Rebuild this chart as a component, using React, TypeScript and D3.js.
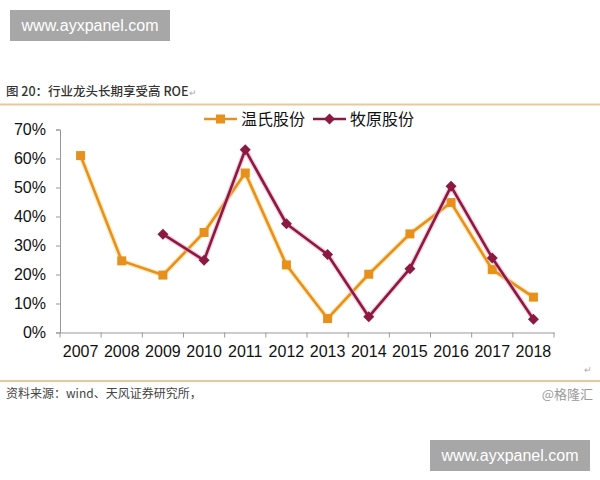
import { useRef, useEffect } from 'react';
import { select, scaleBand, scaleLinear, line, axisLeft, axisBottom } from 'd3';

const years = ['2007', '2008', '2009', '2010', '2011', '2012', '2013', '2014', '2015', '2016', '2017', '2018'];
const wensRoe = [0.61, 0.247, 0.198, 0.345, 0.55, 0.233, 0.048, 0.201, 0.34, 0.448, 0.217, 0.122];
const muyuanRoe: (number | null)[] = [null, null, 0.339, 0.249, 0.63, 0.375, 0.269, 0.054, 0.22, 0.504, 0.257, 0.046];
const yTicks = [0, 0.1, 0.2, 0.3, 0.4, 0.5, 0.6, 0.7];

const ORANGE = '#E8901C';
const RED = '#8B1A43';
const CJK = '"Noto Sans CJK SC", "Liberation Sans", sans-serif';
const NUM = '"Liberation Sans", Arial, sans-serif';

const App = () => {
  const svgRef = useRef<SVGSVGElement | null>(null);

  useEffect(() => {
    const svg = select(svgRef.current);
    svg.selectAll('*').remove();

    const left = 60;
    const right = 554;
    const top = 129.5;
    const bottom = 332.5;

    const x = scaleBand().domain(years).range([left, right]);
    const y = scaleLinear().domain([0, 0.7]).range([bottom, top]);
    const cx = (i: number) => (x(years[i]) as number) + x.bandwidth() / 2;

    // watermarks
    const marks = [
      { bx: 10, by: 10 },
      { bx: 430, by: 440 },
    ];
    marks.forEach((m) => {
      svg.append('rect').attr('x', m.bx).attr('y', m.by).attr('width', 160).attr('height', 31).attr('fill', '#a7a7a7');
      svg
        .append('text')
        .attr('x', m.bx + 80)
        .attr('y', m.by + 21)
        .attr('text-anchor', 'middle')
        .attr('fill', '#fff')
        .style('font-family', NUM)
        .style('font-size', '16px')
        .text('www.ayxpanel.com');
    });

    // title + rules
    svg
      .append('text')
      .attr('x', 6)
      .attr('y', 96)
      .attr('fill', '#333')
      .style('font-family', CJK)
      .style('font-size', '12.5px')
      .style('font-weight', 500)
      .text('图 20：行业龙头长期享受高 ROE')
      .append('tspan')
      .attr('fill', '#aaa')
      .style('font-size', '9px')
      .text('↵');
    svg.append('line').attr('x1', 0).attr('x2', 600).attr('y1', 104.5).attr('y2', 104.5).attr('stroke', '#e6c9a0').attr('stroke-width', 2);
    svg.append('line').attr('x1', 0).attr('x2', 600).attr('y1', 381).attr('y2', 381).attr('stroke', '#e6c9a0').attr('stroke-width', 2);
    svg
      .append('text')
      .attr('x', 584)
      .attr('y', 373)
      .attr('fill', '#aaa')
      .style('font-size', '9px')
      .text('↵');

    // footer
    svg
      .append('text')
      .attr('x', 6)
      .attr('y', 398)
      .attr('fill', '#444')
      .style('font-family', CJK)
      .style('font-size', '12px')
      .text('资料来源：wind、天风证券研究所，');
    svg
      .append('text')
      .attr('x', 593)
      .attr('y', 399)
      .attr('text-anchor', 'end')
      .attr('fill', '#9a9a9a')
      .style('font-family', CJK)
      .style('font-size', '13px')
      .text('@格隆汇');

    // axes
    const yAxis = svg
      .append('g')
      .attr('transform', `translate(${left},0)`)
      .call(
        axisLeft(y)
          .tickValues(yTicks)
          .tickFormat((d) => `${Math.round(+d * 100)}%`)
          .tickSize(4)
          .tickSizeOuter(4)
          .tickPadding(10)
      );
    yAxis.select('.domain').attr('stroke', '#999');
    yAxis.selectAll('.tick line').attr('stroke', '#999');
    yAxis.selectAll('.tick text').attr('fill', '#111').style('font-family', NUM).style('font-size', '16px');

    const xAxis = svg
      .append('g')
      .attr('transform', `translate(0,${bottom})`)
      .call(axisBottom(x).tickSize(0).tickPadding(13));
    xAxis.select('.domain').attr('stroke', '#999');
    xAxis.selectAll('.tick text').attr('fill', '#111').style('font-family', NUM).style('font-size', '16px');
    xAxis
      .selectAll('.sep')
      .data(years.concat(['end']))
      .join('line')
      .attr('class', 'sep')
      .attr('x1', (_d, i) => left + i * x.step())
      .attr('x2', (_d, i) => left + i * x.step())
      .attr('y1', 0)
      .attr('y2', 5)
      .attr('stroke', '#999');

    // lines
    const series = [
      { name: '温氏股份', values: wensRoe as (number | null)[], color: ORANGE, glow: '#ffd98a', shape: 'square' },
      { name: '牧原股份', values: muyuanRoe, color: RED, glow: '#f2a6c0', shape: 'diamond' },
    ];

    const drawMarker = (g: any, shape: string, px: number, py: number, color: string) => {
      if (shape === 'square') {
        g.append('rect').attr('x', px - 4.5).attr('y', py - 4.5).attr('width', 9).attr('height', 9).attr('fill', color);
      } else {
        g.append('path')
          .attr('d', `M${px},${py - 5.5}L${px + 5.5},${py}L${px},${py + 5.5}L${px - 5.5},${py}Z`)
          .attr('fill', color);
      }
    };

    series.forEach((s) => {
      const gen = line<number | null>()
        .defined((d) => d !== null)
        .x((_d, i) => cx(i))
        .y((d) => y(d as number));
      const g = svg.append('g');
      g.append('path').attr('d', gen(s.values)).attr('fill', 'none').attr('stroke', s.glow).attr('stroke-width', 5).attr('opacity', 0.6).attr('stroke-linejoin', 'round');
      g.append('path').attr('d', gen(s.values)).attr('fill', 'none').attr('stroke', s.color).attr('stroke-width', 2.6).attr('stroke-linejoin', 'round');
      s.values.forEach((v, i) => {
        if (v !== null) drawMarker(g, s.shape, cx(i), y(v), s.color);
      });
    });

    // legend
    const legend = [
      { name: '温氏股份', color: ORANGE, shape: 'square', lx: 204 },
      { name: '牧原股份', color: RED, shape: 'diamond', lx: 313 },
    ];
    legend.forEach((l) => {
      const g = svg.append('g');
      g.append('line').attr('x1', l.lx).attr('x2', l.lx + 33).attr('y1', 119).attr('y2', 119).attr('stroke', l.color).attr('stroke-width', 2.6);
      drawMarker(g, l.shape, l.lx + 16.5, 119, l.color);
      g.append('text')
        .attr('x', l.lx + 37)
        .attr('y', 125)
        .attr('fill', '#111')
        .style('font-family', CJK)
        .style('font-size', '16px')
        .text(l.name);
    });
  }, []);

  return (
    <div style={{ position: 'absolute', left: 0, top: 0 }}>
      <svg ref={svgRef} width={600} height={480} style={{ display: 'block', background: '#fff' }}></svg>
    </div>
  );
};

export default App;
